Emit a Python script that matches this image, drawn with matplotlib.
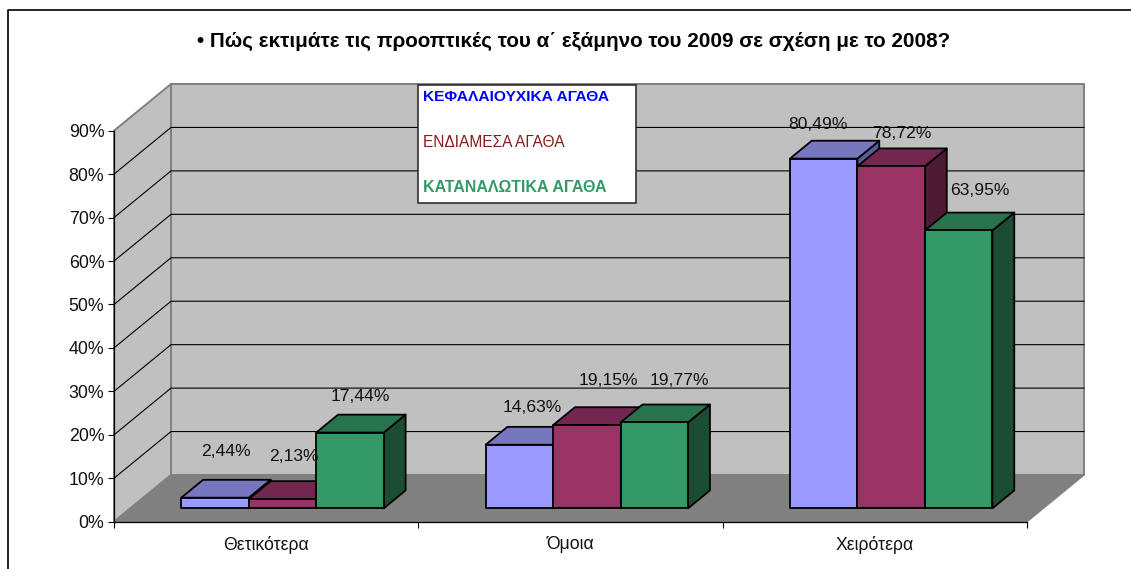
"""
Recreates the oblique 3D column chart on top of a plain 2D axes.
"""

import matplotlib
matplotlib.use('Agg')
import matplotlib.pyplot as plt
from matplotlib.patches import Polygon, Rectangle

plt.rcParams['font.family'] = ['Liberation Sans', 'DejaVu Sans']

TITLE = '• Πώς εκτιμάτε τις προοπτικές του α΄ εξάμηνο του 2009 σε σχέση με το 2008?'
categories = ['Θετικότερα', 'Όμοια', 'Χειρότερα']
series_names = ['ΚΕΦΑΛΑΙΟΥΧΙΚΑ ΑΓΑΘΑ', 'ΕΝΔΙΑΜΕΣΑ ΑΓΑΘΑ', 'ΚΑΤΑΝΑΛΩΤΙΚΑ ΑΓΑΘΑ']
capital_goods = [2.44, 14.63, 80.49]
intermediate_goods = [2.13, 19.15, 78.72]
consumer_goods = [17.44, 19.77, 63.95]
value_labels = [['2,44%', '14,63%', '80,49%'],
                ['2,13%', '19,15%', '78,72%'],
                ['17,44%', '19,77%', '63,95%']]
y_ticks = [0, 10, 20, 30, 40, 50, 60, 70, 80, 90]

W, H = 1131, 569
AX_LEFT, AX_RIGHT, AX_TOP, AX_BOTTOM = 114, 1027, 130.7, 521.7

# colours: front, top, side
FACES = [('#9999FF', '#7777BF', '#5C5C99'),
         ('#993366', '#732650', '#4D1A33'),
         ('#339966', '#26734D', '#1A4D33')]
LEGEND_COLOURS = ['#0000FF', '#8B1A1A', '#339966']
LEGEND_BOLD = ['bold', 'normal', 'bold']
LEGEND_SIZES = [11.15, 11.2, 11.5]

# depth of the box in data units (57 px across, 46.7 px up)
X_PER_PX = 3 / (AX_RIGHT - AX_LEFT)
Y_PER_PX = 90 / (AX_BOTTOM - AX_TOP)
DEPTH_X = 57 * X_PER_PX
DEPTH_Y = 46.7 * Y_PER_PX
BAR_W = 67.5 * X_PER_PX
GAP = (1 - 3 * BAR_W) / 2
BAR_D0, BAR_D1 = 0.287, 0.67

# label centres relative to the middle of the bar front top, in px
LABEL_SHIFT = [[(11, 46), (13, 37), (-6, 34)],
               [(11, 43), (22, 45), (11, 33)],
               [(10, 36), (25, 42), (21, 40)]]


def proj(x, v, d):
    """Oblique projection of a point at depth d (0 front, 1 back)."""
    return x + d * DEPTH_X, v + d * DEPTH_Y


def draw_box(ax):
    """Draw the walls, floor and gridlines."""
    wall = [proj(0, 0, 1), proj(3, 0, 1), proj(3, 90, 1), proj(0, 90, 1)]
    side = [proj(0, 0, 0), proj(0, 0, 1), proj(0, 90, 1), proj(0, 90, 0)]
    floor = [proj(0, 0, 0), proj(3, 0, 0), proj(3, 0, 1), proj(0, 0, 1)]
    ax.add_patch(Polygon(wall, fc='#C0C0C0', ec='#808080', lw=1.4, zorder=1, clip_on=False))
    ax.add_patch(Polygon(side, fc='#C0C0C0', ec='#808080', lw=1.4, zorder=1, clip_on=False))
    ax.add_patch(Polygon(floor, fc='#808080', ec='#808080', lw=1, zorder=1, clip_on=False))
    for v in y_ticks[1:-1]:
        xs, ys = zip(proj(0, v, 0), proj(0, v, 1), proj(3, v, 1))
        ax.plot(xs, ys, color='black', lw=0.8, zorder=2, clip_on=False)


def draw_bar(ax, x, v, faces):
    """Draw one column as front, top and side faces."""
    kw = {'ec': 'black', 'lw': 1.3, 'joinstyle': 'round', 'zorder': 3, 'clip_on': False}
    x0, base = proj(x, 0, BAR_D0)
    x1 = x0 + BAR_W
    back_dx = (BAR_D1 - BAR_D0) * DEPTH_X
    back_dy = (BAR_D1 - BAR_D0) * DEPTH_Y
    top = base + v
    ax.add_patch(Polygon([(x1, base), (x1 + back_dx, base + back_dy),
                          (x1 + back_dx, top + back_dy), (x1, top)], fc=faces[2], **kw))
    ax.add_patch(Polygon([(x0, top), (x1, top), (x1 + back_dx, top + back_dy),
                          (x0 + back_dx, top + back_dy)], fc=faces[1], **kw))
    ax.add_patch(Rectangle((x0, base), BAR_W, v, fc=faces[0], **kw))
    return (x0 + x1) / 2, top


def main():
    fig = plt.figure(figsize=(W / 100, H / 100), dpi=100)

    # chart frame: only top and left edges fall inside the picture
    fig.add_artist(plt.Line2D([7.5 / W, 7.5 / W, 1], [0, 1 - 9.5 / H, 1 - 9.5 / H],
                              color='black', lw=1.2))

    ax = fig.add_axes([AX_LEFT / W, 1 - AX_BOTTOM / H,
                       (AX_RIGHT - AX_LEFT) / W, (AX_BOTTOM - AX_TOP) / H])
    ax.set_xlim(0, 3)
    ax.set_ylim(0, 90)
    ax.patch.set_visible(False)
    for name in ('top', 'right'):
        ax.spines[name].set_visible(False)
    ax.spines['left'].set_linewidth(0.9)
    ax.spines['bottom'].set_linewidth(0.9)
    ax.spines['left'].set_zorder(2.5)
    ax.spines['bottom'].set_zorder(2.5)

    ax.set_yticks(y_ticks, [f'{v}%' for v in y_ticks], fontsize=12.8, color='#111111')
    ax.set_xticks([0, 1, 2, 3], [''] * 4)
    ax.tick_params(axis='both', length=4, width=0.8, pad=3)
    for i, name in enumerate(categories):
        ax.annotate(name, (i + 0.5, 0), xytext=(0, -23), textcoords='offset pixels',
                    ha='center', va='center', fontsize=12.7, color='#111111',
                    annotation_clip=False)

    draw_box(ax)

    series = [capital_goods, intermediate_goods, consumer_goods]
    for c in range(len(categories)):
        for s, values in enumerate(series):
            x = c + GAP + s * BAR_W
            cx, top = draw_bar(ax, x, values[c], FACES[s])
            dx, dy = LABEL_SHIFT[s][c]
            ax.annotate(value_labels[s][c], (cx, top), xytext=(dx, dy),
                        textcoords='offset pixels', ha='center', va='center',
                        fontsize=12.6, color='#111111', zorder=6, annotation_clip=False)

    # text box standing in for the legend
    fig.add_artist(Rectangle((418 / W, 1 - 202.7 / H), 218 / W, 118 / H,
                             transform=fig.transFigure, fc='white', ec='#222222',
                             lw=1.1, zorder=5))
    for name, colour, weight, size, y in zip(series_names, LEGEND_COLOURS, LEGEND_BOLD,
                                             LEGEND_SIZES, [97, 142.7, 187]):
        fig.text(423 / W, 1 - y / H, name, color=colour, fontweight=weight,
                 fontsize=size, ha='left', va='center', zorder=6)

    fig.text(574 / W, 1 - 41 / H, TITLE, fontsize=14.9, fontweight='bold',
             ha='center', va='center', color='black')

    fig.savefig('out.png', dpi=100)
    plt.close(fig)


if __name__ == "__main__":
    main()
